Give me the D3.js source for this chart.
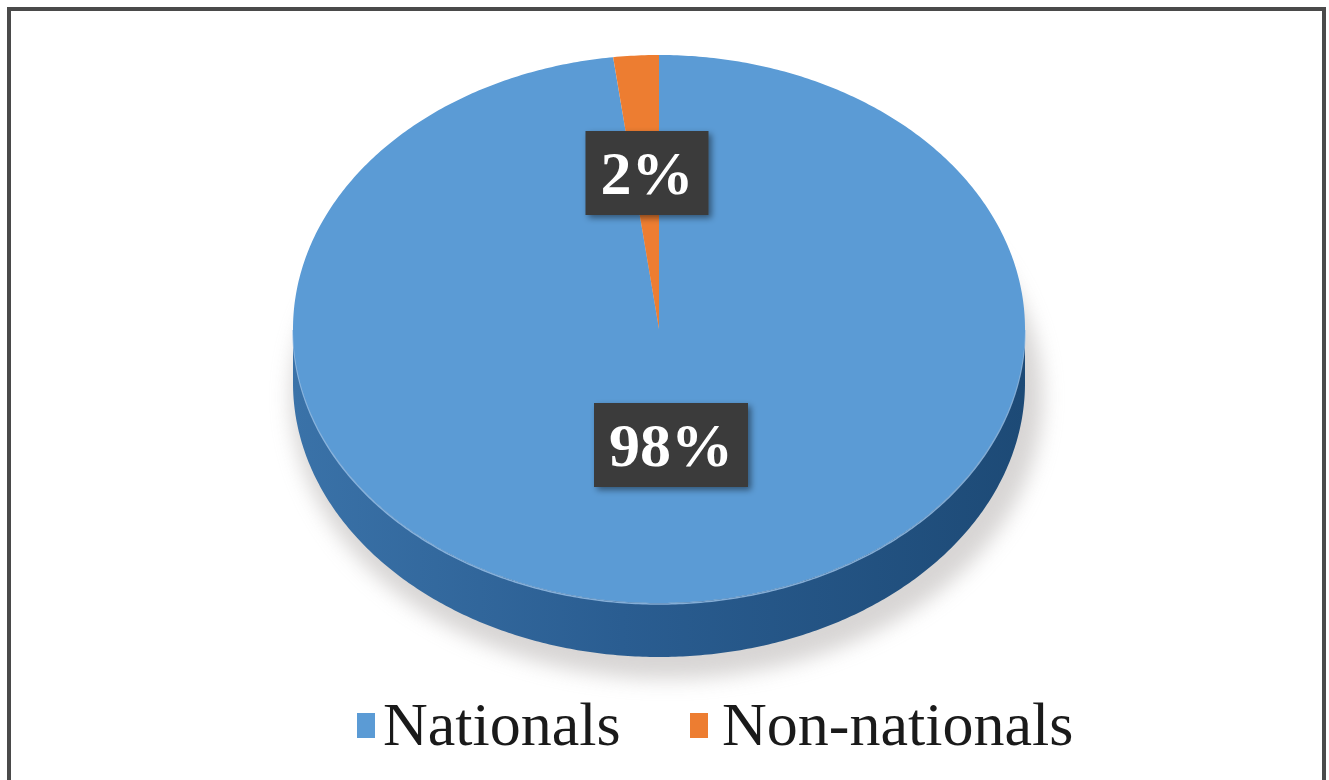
<!DOCTYPE html>
<html>
<head>
<meta charset="utf-8">
<script src="https://cdn.jsdelivr.net/npm/d3@7"></script>
</head>
<body style="margin:0">
<svg id="pie3d" width="1329" height="780"></svg>
<script>
// Share of respondents by nationality
const categories = ["Nationals", "Non-nationals"];
const shares = [98, 2];
const labels = ["98%", "2%"];
const colors = ["#5b9bd5", "#ed7d31"];
const sideColors = ["#2c6196", "#b85f22"];

const FONT = "Liberation Serif";
const svg = d3.select("#pie3d");
const W = 1329, H = 780;

// outer frame (runs off the bottom edge)
svg.append("rect").attr("x", 9).attr("y", 9).attr("width", W - 14).attr("height", H + 20)
  .attr("fill", "#fff").attr("stroke", "#4a4a4a").attr("stroke-width", 4);

// pie geometry (tilted ellipse with visible rim)
const cx = 659, cy = 329, rx = 366, ry = 274, depth = 54;

const defs = svg.append("defs");
defs.append("filter").attr("id", "soft").attr("x", "-20%").attr("y", "-20%")
  .attr("width", "140%").attr("height", "140%")
  .append("feGaussianBlur").attr("stdDeviation", 10);
const boxShadow = defs.append("filter").attr("id", "boxShadow")
  .attr("x", "-20%").attr("y", "-20%").attr("width", "150%").attr("height", "150%");
boxShadow.append("feDropShadow").attr("dx", 3).attr("dy", 3).attr("stdDeviation", 3)
  .attr("flood-color", "#000").attr("flood-opacity", 0.45);
const sideGrad = defs.append("linearGradient").attr("id", "sideGrad")
  .attr("x1", "0%").attr("x2", "100%").attr("y1", "0%").attr("y2", "0%");
sideGrad.append("stop").attr("offset", "0%").attr("stop-color", "#3a72a8");
sideGrad.append("stop").attr("offset", "45%").attr("stop-color", "#2a5d91");
sideGrad.append("stop").attr("offset", "100%").attr("stop-color", "#1d4a76");

const pie = d3.pie().sort(null).value(d => d)(shares);

// angle convention: 0 at 12 o'clock, increasing clockwise
const pt = (a, dy = 0) => [cx + rx * Math.sin(a), cy - ry * Math.cos(a) + dy];

function arcPoints(a0, a1, dy) {
  const n = Math.max(2, Math.ceil(Math.abs(a1 - a0) / 0.01));
  return d3.range(n + 1).map(i => pt(a0 + (a1 - a0) * i / n, dy));
}

// soft shadow beneath the pie
svg.append("ellipse").attr("cx", cx + 8).attr("cy", cy + depth + 14)
  .attr("rx", rx + 10).attr("ry", ry + 8)
  .attr("fill", "#b8b4b2").attr("opacity", 0.55).attr("filter", "url(#soft)");

const line = d3.line();

// rim: only the front half (angles π/2 .. 3π/2) is visible
pie.forEach((p, i) => {
  const a0 = Math.max(p.startAngle, Math.PI / 2);
  const a1 = Math.min(p.endAngle, 3 * Math.PI / 2);
  if (a1 <= a0) return;
  const top = arcPoints(a0, a1, 0);
  const bottom = arcPoints(a1, a0, depth);
  svg.append("path")
    .attr("d", line(top.concat(bottom)) + "Z")
    .attr("fill", i === 0 ? "url(#sideGrad)" : sideColors[i]);
});

// thin light edge where the top face meets the rim
svg.append("path")
  .attr("d", line(arcPoints(Math.PI / 2, 3 * Math.PI / 2, 1)))
  .attr("fill", "none").attr("stroke", "#9cc3ea").attr("stroke-width", 1.5).attr("opacity", 0.8);

// top faces
pie.forEach((p, i) => {
  const pts = [[cx, cy]].concat(arcPoints(p.startAngle, p.endAngle, 0));
  svg.append("path")
    .attr("d", line(pts) + "Z")
    .attr("fill", colors[i]);
});

// data labels in dark boxes sized to their text
const labelPos = [
  { x: 671, y: 445 },
  { x: 647, y: 173 }
];
pie.forEach((p, i) => {
  const g = svg.append("g").attr("transform", `translate(${labelPos[i].x},${labelPos[i].y})`);
  const t = g.append("text")
    .attr("font-family", FONT)
    .style("font-family", FONT)
    .attr("text-anchor", "middle").attr("y", 21)
    .attr("font-weight", "bold").attr("font-size", 62)
    .attr("fill", "#fff").text(labels[i]);
  const bb = t.node().getBBox();
  g.insert("rect", "text")
    .attr("x", bb.x - 15).attr("y", -42)
    .attr("width", bb.width + 30).attr("height", 84)
    .attr("fill", "#3b3b3b").attr("filter", "url(#boxShadow)");
});

// legend
const legendItems = [
  { x: 357, textX: 383 },
  { x: 690, textX: 722 }
];
categories.forEach((c, i) => {
  svg.append("rect").attr("x", legendItems[i].x).attr("y", 713)
    .attr("width", 18).attr("height", 25).attr("fill", colors[i]);
  svg.append("text")
    .attr("font-family", FONT)
    .style("font-family", FONT)
    .attr("x", legendItems[i].textX).attr("y", 745)
    .attr("font-size", 62).attr("fill", "#1a1a1a").text(c);
});
</script>
</body>
</html>
